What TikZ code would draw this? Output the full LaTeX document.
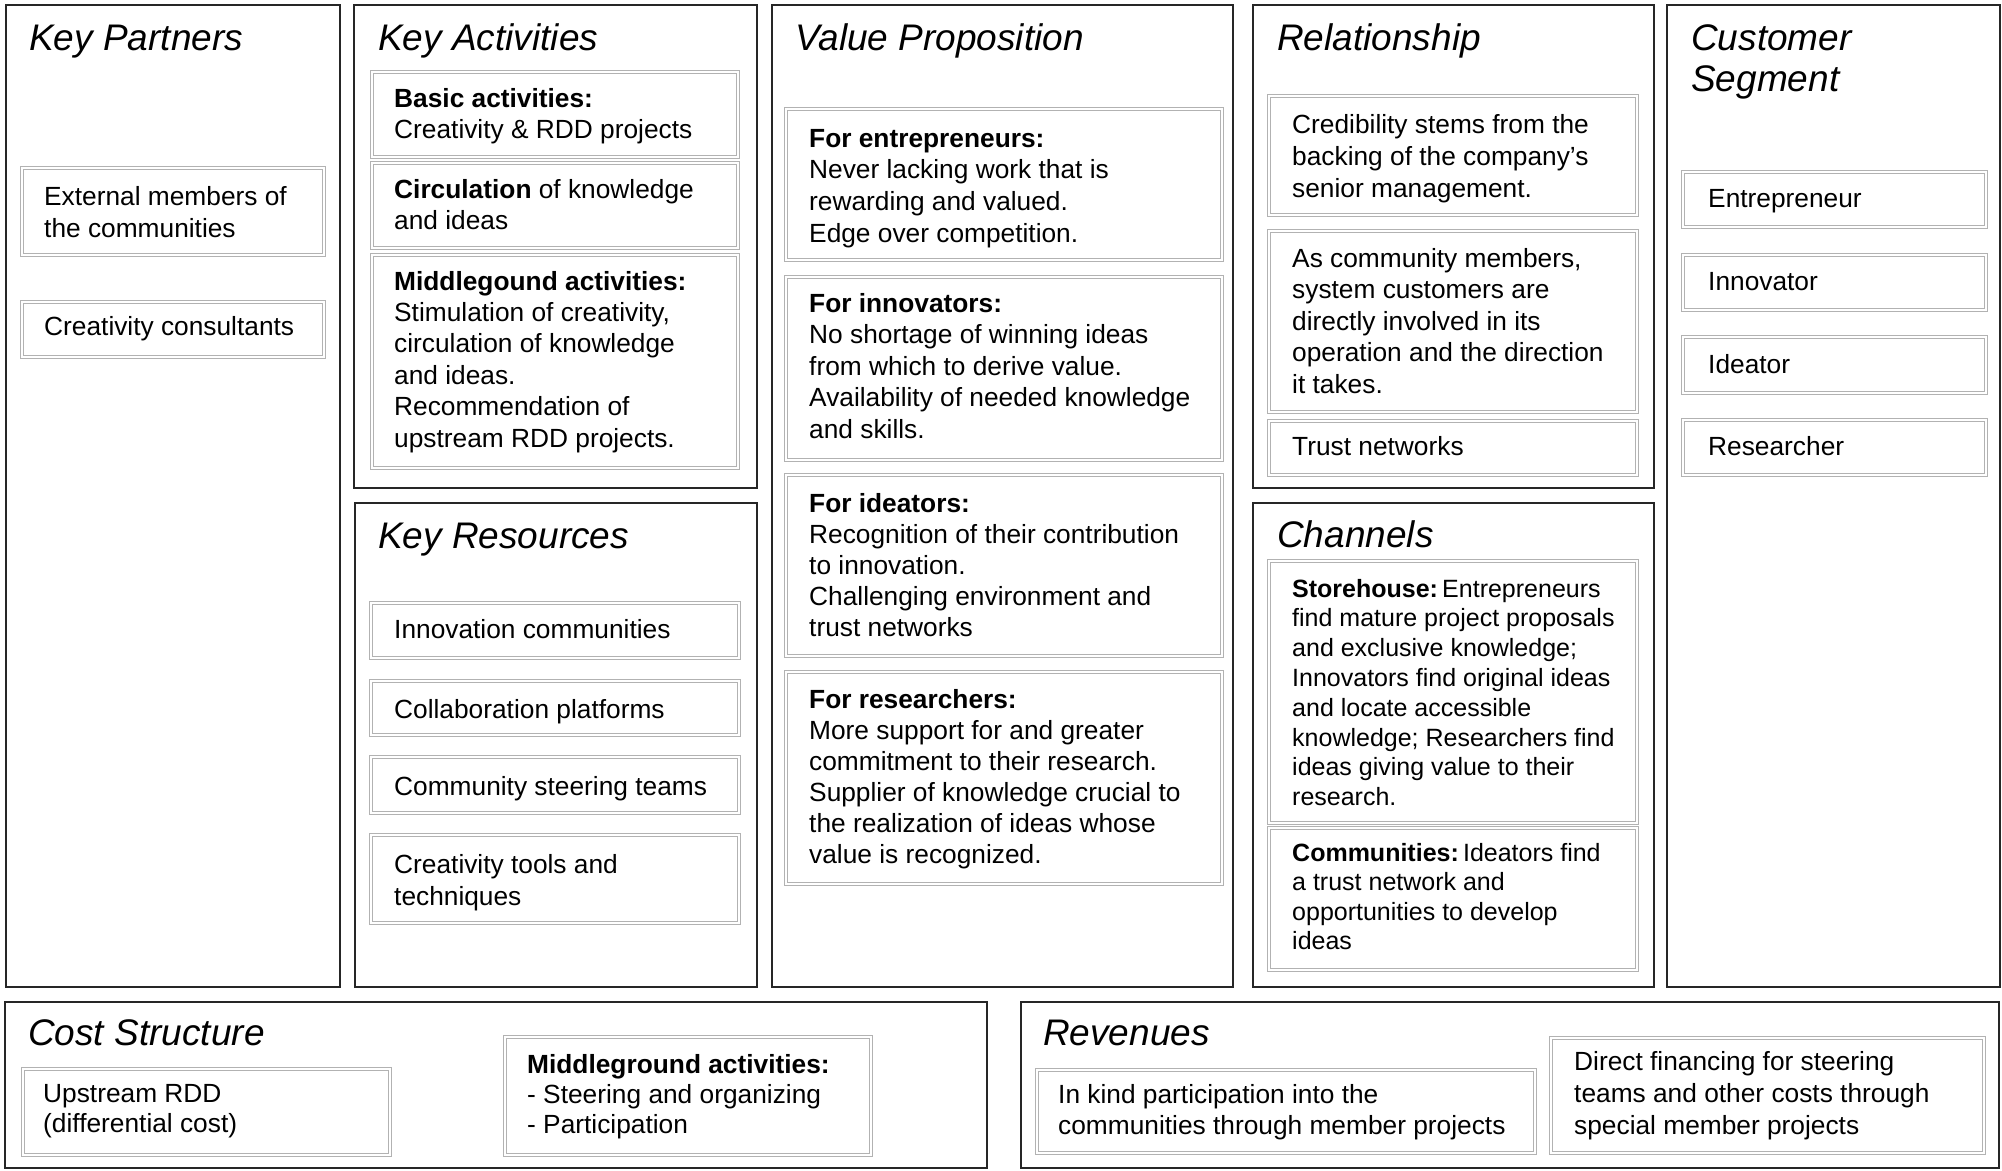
\documentclass[tikz,border=0pt]{standalone}
\usepackage{fontspec}
\setmainfont{Liberation Sans}
\newcommand\tl[2]{{\fontsize{26.3}{#1}\selectfont\begin{tabular}[t]{@{}l@{}}#2\end{tabular}}}
\newcommand\tls[2]{{\fontsize{25}{#1}\selectfont\begin{tabular}[t]{@{}l@{}}#2\end{tabular}}}
\newcommand\ttlx[1]{{\fontsize{37}{41}\selectfont\itshape\begin{tabular}[t]{@{}l@{}}#1\end{tabular}}}
\begin{document}
\begin{tikzpicture}[x=1pt,y=-1pt,
  outer/.style={draw=black!85, line width=2.6pt},
  inner/.style={draw=gray!60, double=white, double distance=1.2pt, line width=1pt},
  ttl/.style={anchor=base west, inner sep=0pt},
  txt/.style={anchor=base west, inner sep=0pt}]
\useasboundingbox (0,0) rectangle (2002,1170);
\fill[white] (0,0) rectangle (2002,1170);
% outer boxes
\draw[outer] (6,5) rectangle (340,987);
\draw[outer] (354,5) rectangle (757,488);
\draw[outer] (355,503) rectangle (757,987);
\draw[outer] (772,5) rectangle (1233,987);
\draw[outer] (1253,5) rectangle (1654,488);
\draw[outer] (1253,503) rectangle (1654,987);
\draw[outer] (1667,5) rectangle (2000,987);
\draw[outer] (5,1002) rectangle (987,1168);
\draw[outer] (1021,1002) rectangle (1999,1168);
% titles
\node[ttl] (tKP) at (29,50) {\ttlx{Key Partners}};
\node[ttl] (tKA) at (378,50) {\ttlx{Key Activities}};
\node[ttl] (tKR) at (378,548) {\ttlx{Key Resources}};
\node[ttl] (tVP) at (795,50) {\ttlx{Value Proposition}};
\node[ttl] (tRE) at (1277,50) {\ttlx{Relationship}};
\node[ttl] (tCH) at (1277,547) {\ttlx{Channels}};
\node[ttl] (tCS) at (1691,50) {\ttlx{Customer\\Segment}};
\node[ttl] (tCO) at (28,1045) {\ttlx{Cost Structure}};
\node[ttl] (tRV) at (1043,1045) {\ttlx{Revenues}};
% Key Partners
\draw[inner] (22,168) rectangle (324,255);
\node[txt] (kp1) at (44,205) {\tl{32}{External members of\\the communities}};
\draw[inner] (22,302) rectangle (324,357);
\node[txt] (kp2) at (44,335) {\tl{32}{Creativity consultants}};
% Key Activities
\draw[inner] (372,72) rectangle (738,157);
\node[txt] (ka1) at (394,107) {\tl{31.4}{\textbf{Basic activities:}\\Creativity \& RDD projects}};
\draw[inner] (372,163) rectangle (738,248);
\node[txt] (ka2) at (394,198) {\tl{31.4}{\textbf{Circulation} of knowledge\\and ideas}};
\draw[inner] (372,255) rectangle (738,468);
\node[txt] (ka3) at (394,290) {\tl{31.4}{\textbf{Middlegound activities:}\\Stimulation of creativity,\\circulation of knowledge\\and ideas.\\Recommendation of\\upstream RDD projects.}};
% Key Resources
\draw[inner] (371,603) rectangle (739,658);
\node[txt] (kr1) at (394,638) {\tl{32}{Innovation communities}};
\draw[inner] (371,681) rectangle (739,735);
\node[txt] (kr2) at (394,718) {\tl{32}{Collaboration platforms}};
\draw[inner] (371,757) rectangle (739,813);
\node[txt] (kr3) at (394,795) {\tl{32}{Community steering teams}};
\draw[inner] (371,835) rectangle (739,923);
\node[txt] (kr4) at (394,873) {\tl{32}{Creativity tools and\\techniques}};
% Value Proposition
\draw[inner] (786,109) rectangle (1222,260);
\node[txt] (vp1) at (809,147) {\tl{31.7}{\textbf{For entrepreneurs:}\\Never lacking work that is\\rewarding and valued.\\Edge over competition.}};
\draw[inner] (786,277) rectangle (1222,460);
\node[txt] (vp2) at (809,312) {\tl{31.5}{\textbf{For innovators:}\\No shortage of winning ideas\\from which to derive value.\\Availability of needed knowledge\\and skills.}};
\draw[inner] (786,475) rectangle (1222,656);
\node[txt] (vp3) at (809,512) {\tl{31}{\textbf{For ideators:}\\Recognition of their contribution\\to innovation.\\Challenging environment and\\trust networks}};
\draw[inner] (786,672) rectangle (1222,884);
\node[txt] (vp4) at (809,708) {\tl{31}{\textbf{For researchers:}\\More support for and greater\\commitment to their research.\\Supplier of knowledge crucial to\\the realization of ideas whose\\value is recognized.}};
% Relationship
\draw[inner] (1269,96) rectangle (1637,215);
\node[txt] (re1) at (1292,133) {\tl{32}{Credibility stems from the\\backing of the company's\\senior management.}};
\draw[inner] (1269,231) rectangle (1637,412);
\node[txt] (re2) at (1292,267) {\tl{31.6}{As community members,\\system customers are\\directly involved in its\\operation and the direction\\it takes.}};
\draw[inner] (1269,421) rectangle (1637,475);
\node[txt] (re3) at (1292,455) {\tl{32}{Trust networks}};
% Channels
\draw[inner] (1269,561) rectangle (1637,823);
\node[txt] (ch1) at (1292,597) {\tls{29.8}{\textbf{Storehouse:}\,Entrepreneurs\\find mature project proposals\\and exclusive knowledge;\\Innovators find original ideas\\and locate accessible\\knowledge; Researchers find\\ideas giving value to their\\research.}};
\draw[inner] (1269,828) rectangle (1637,970);
\node[txt] (ch2) at (1292,861) {\tls{29.5}{\textbf{Communities:}\,Ideators find\\a trust network and\\opportunities to develop\\ideas}};
% Customer Segment
\draw[inner] (1683,172) rectangle (1986,227);
\node[txt] (cs1) at (1708,207) {\tl{32}{Entrepreneur}};
\draw[inner] (1683,255) rectangle (1986,310);
\node[txt] (cs2) at (1708,290) {\tl{32}{Innovator}};
\draw[inner] (1683,337) rectangle (1986,393);
\node[txt] (cs3) at (1708,373) {\tl{32}{Ideator}};
\draw[inner] (1683,420) rectangle (1986,475);
\node[txt] (cs4) at (1708,455) {\tl{32}{Researcher}};
% Cost Structure
\draw[inner] (23,1069) rectangle (390,1155);
\node[txt] (co1) at (43,1102) {\tl{30}{Upstream RDD\\(differential cost)}};
\draw[inner] (505,1037) rectangle (871,1155);
\node[txt] (co2) at (527,1073) {\tl{30}{\textbf{Middleground activities:}\\- Steering and organizing\\- Participation}};
% Revenues
\draw[inner] (1037,1070) rectangle (1535,1153);
\node[txt] (rv1) at (1058,1103) {\tl{31}{In kind participation into the\\communities through member projects}};
\draw[inner] (1551,1038) rectangle (1984,1153);
\node[txt] (rv2) at (1574,1070) {\tl{32}{Direct financing for steering\\teams and other costs through\\special member projects}};
\end{tikzpicture}
\end{document}
